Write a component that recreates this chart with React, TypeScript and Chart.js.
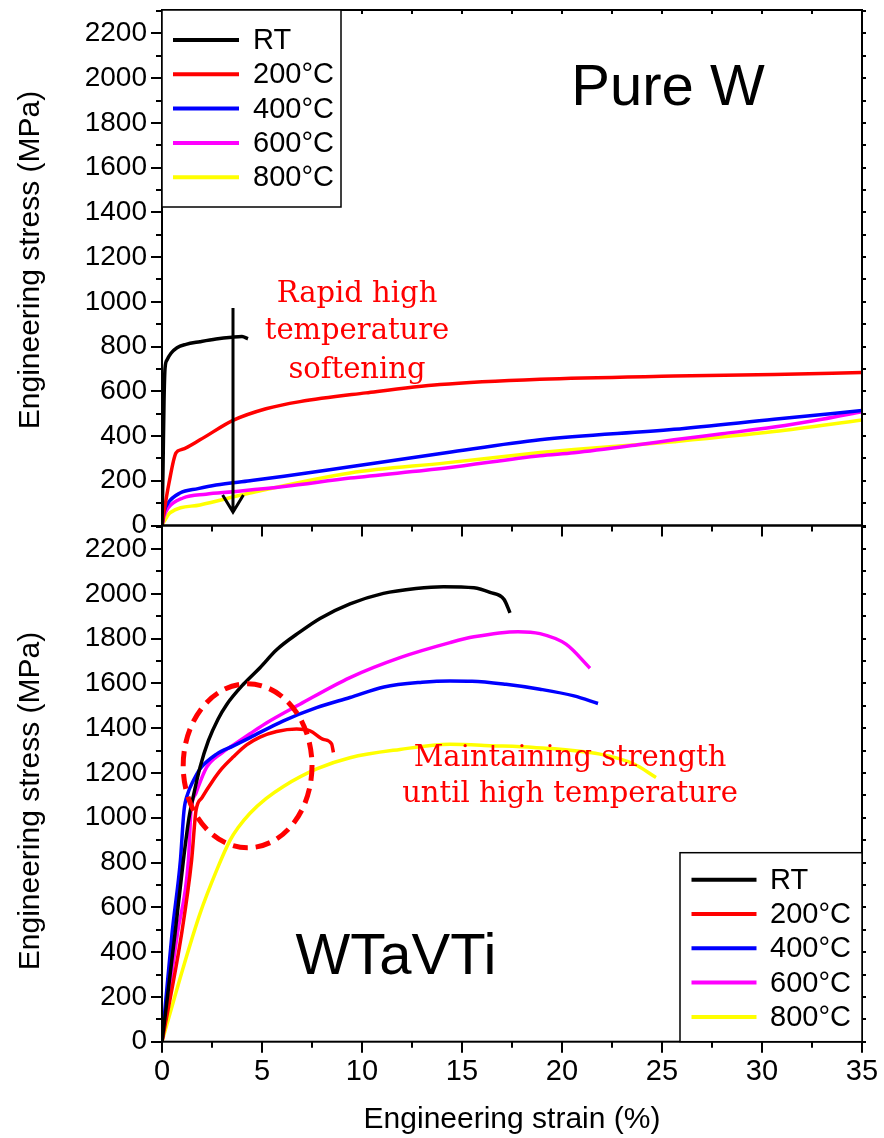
import React, { useEffect, useRef } from 'react';
import { Chart, registerables } from 'chart.js';

Chart.register(...registerables);

const PAGE_W = 884;
const PAGE_H = 1138;
const PLOT_LEFT = 162;
const PLOT_RIGHT = 862;
const SANS = '"Liberation Sans", Arial, sans-serif';
const SERIF = '"DejaVu Serif", serif';

const seriesLabels = ['RT', '200°C', '400°C', '600°C', '800°C'];
const seriesColors = ['#000000', '#ff0000', '#0000ff', '#ff00ff', '#ffff00'];

const strainTicks = [0, 5, 10, 15, 20, 25, 30, 35];
const stressTicks = [0, 200, 400, 600, 800, 1000, 1200, 1400, 1600, 1800, 2000, 2200];
const STRAIN_MAX = 35;
const STRESS_MAX = 2305;

type Pt = [number, number];

// Pure W: [engineering strain (%), engineering stress (MPa)]
const pureW_RT: Pt[] = [
  [0, 0], [0.05, 250], [0.1, 550], [0.15, 700], [0.25, 740], [0.45, 770], [0.75, 795],
  [1.2, 810], [1.9, 822], [2.7, 834], [3.5, 842], [4.0, 845], [4.3, 835],
];
const pureW_200: Pt[] = [
  [0, 0], [0.1, 60], [0.35, 190], [0.7, 325], [1.0, 340], [1.9, 383], [3.55, 470],
  [5.2, 522], [6.9, 554], [10.2, 593], [13.9, 630], [18.9, 654],
  [25.6, 668], [30.6, 675], [35, 684],
];
const pureW_400: Pt[] = [
  [0, 0], [0.1, 60], [0.3, 100], [0.9, 145], [1.8, 165], [2.7, 181], [4.4, 200],
  [6.1, 220], [9.4, 263], [14.2, 325], [18.9, 383], [25.6, 430], [30.6, 475], [35, 514],
];
const pureW_600: Pt[] = [
  [0, 0], [0.1, 40], [0.3, 78], [1.05, 123], [2.2, 140], [3.55, 151], [6.1, 174],
  [9.4, 212], [14.2, 257], [18.9, 312], [20.6, 325], [23.9, 362], [25.6, 383],
  [28, 410], [30.6, 440], [33, 475], [35, 509],
];
const pureW_800: Pt[] = [
  [0, 0], [0.1, 17], [0.4, 57], [1.9, 92], [4.4, 145], [9.4, 235], [14.2, 280],
  [18.9, 326], [20.6, 340], [23.9, 362], [25.6, 375], [30.6, 420], [35, 472],
];

// WTaVTi: [engineering strain (%), engineering stress (MPa)]
const wtavti_RT: Pt[] = [
  [0, 0], [0.65, 482], [1.07, 810], [1.35, 1000], [1.6, 1110], [1.9, 1225], [2.32, 1344],
  [2.8, 1440], [3.23, 1505], [4.07, 1596], [4.9, 1670], [5.73, 1750], [6.9, 1830],
  [7.9, 1890], [9.4, 1955], [11.07, 2002], [12.7, 2024], [14.07, 2032], [15.6, 2027],
  [16.4, 2006], [17.1, 1975], [17.4, 1915],
];
const wtavti_200: Pt[] = [
  [0, 0], [0.98, 482], [1.48, 810], [1.7, 1032], [2.0, 1090], [2.5, 1160], [3.0, 1220],
  [3.57, 1272], [4.23, 1325], [4.9, 1360], [5.73, 1385], [6.73, 1396], [7.4, 1388],
  [8.07, 1350], [8.48, 1330], [8.57, 1292],
];
const wtavti_400: Pt[] = [
  [0, 0], [0.5, 482], [0.92, 810], [1.1, 1032], [1.3, 1110], [1.57, 1166], [1.9, 1218],
  [2.73, 1284], [3.57, 1321], [4.4, 1358], [6.07, 1433], [7.73, 1492], [9.4, 1537],
  [11.1, 1584], [13, 1605], [14.4, 1611], [15.5, 1610], [17.2, 1596], [18.9, 1574],
  [20.6, 1544], [21.8, 1510],
];
const wtavti_600: Pt[] = [
  [0, 0], [0.77, 482], [1.32, 810], [1.45, 1032], [1.7, 1110], [2.23, 1225], [3.0, 1290],
  [3.57, 1325], [4.4, 1375], [5.2, 1422], [6.9, 1507], [9.4, 1626], [11.9, 1715],
  [14.4, 1782], [15.6, 1808], [17.8, 1831], [18.9, 1822], [20.2, 1775], [21.4, 1668],
];
const wtavti_800: Pt[] = [
  [0, 0], [1.07, 334], [1.9, 572], [2.73, 765], [3.4, 899], [3.8, 955], [4.4, 1020],
  [5.2, 1085], [6.07, 1140], [7.73, 1218], [9.4, 1268], [11.9, 1305], [14.4, 1328],
  [16.5, 1322], [18.6, 1314], [21.9, 1284], [23.6, 1240], [24.7, 1180],
];

interface PanelSpec {
  series: Pt[][];
  areaTop: number;
  areaBottom: number;
  showStrainLabels: boolean;
  topTicks: boolean;
  titleCenterY: number;
  legendCorner: 'top-left' | 'bottom-right';
  decorate: (chart: Chart) => void;
}

function px(chart: Chart, sx: number) {
  return chart.scales.x.getPixelForValue(sx);
}
function py(chart: Chart, sy: number) {
  return chart.scales.y.getPixelForValue(sy);
}

function drawLegend(chart: Chart, corner: 'top-left' | 'bottom-right') {
  const { ctx, chartArea: a } = chart;
  let left: number, top: number, w: number, h: number, firstRow: number, l0: number, l1: number, tx: number;
  if (corner === 'top-left') {
    w = 179; h = 197; left = a.left; top = a.top;
    firstRow = 30; l0 = 11; l1 = 77; tx = 91;
  } else {
    w = 182; h = 189; left = a.right - w; top = a.bottom - h;
    firstRow = 27; l0 = 11.5; l1 = 76.5; tx = 90;
  }
  const rowGap = 34.3;
  ctx.save();
  ctx.fillStyle = '#ffffff';
  ctx.fillRect(left, top, w, h);
  ctx.strokeStyle = '#000';
  ctx.lineWidth = 1.5;
  ctx.strokeRect(left, top, w, h);
  ctx.font = `29px ${SANS}`;
  ctx.textAlign = 'left';
  ctx.textBaseline = 'middle';
  chart.data.datasets.forEach((ds: any, i: number) => {
    const ry = top + firstRow + i * rowGap;
    ctx.strokeStyle = ds.borderColor;
    ctx.lineWidth = 4;
    ctx.beginPath();
    ctx.moveTo(left + l0, ry);
    ctx.lineTo(left + l1, ry);
    ctx.stroke();
    ctx.fillStyle = '#000';
    ctx.fillText(ds.label, left + tx, ry + 1);
  });
  ctx.restore();
}

function framePlugin(spec: PanelSpec) {
  return {
    id: 'frame',
    afterDatasetsDraw(chart: Chart) {
      const { ctx, chartArea: a } = chart;
      ctx.save();
      ctx.strokeStyle = '#000';
      ctx.lineWidth = 2;
      ctx.strokeRect(a.left, a.top, a.right - a.left, a.bottom - a.top);
      ctx.beginPath();
      for (let v = 0; v <= STRESS_MAX; v += 100) {
        const y = Math.round(py(chart, v));
        const len = v % 200 === 0 ? 11 : 6;
        ctx.moveTo(a.left - len, y);
        ctx.lineTo(a.left, y);
        ctx.moveTo(a.right, y);
        ctx.lineTo(a.right + 4, y);
      }
      for (let s = 0; s <= STRAIN_MAX; s += 2.5) {
        const x = Math.round(px(chart, s));
        const len = s % 5 === 0 ? 11 : 6;
        ctx.moveTo(x, a.bottom);
        ctx.lineTo(x, a.bottom + len);
        if (spec.topTicks) {
          ctx.moveTo(x, a.top);
          ctx.lineTo(x, a.top + 4);
        }
      }
      ctx.stroke();

      // stress axis title
      ctx.save();
      ctx.translate(31, spec.titleCenterY);
      ctx.rotate(-Math.PI / 2);
      ctx.font = `30px ${SANS}`;
      ctx.fillStyle = '#000';
      ctx.textAlign = 'center';
      ctx.textBaseline = 'middle';
      ctx.fillText('Engineering stress (MPa)', 0, 0);
      ctx.restore();

      if (spec.showStrainLabels) {
        ctx.font = `30px ${SANS}`;
        ctx.fillStyle = '#000';
        ctx.textAlign = 'center';
        ctx.textBaseline = 'alphabetic';
        ctx.fillText('Engineering strain (%)', (a.left + a.right) / 2, 1128);
      }
      ctx.restore();

      spec.decorate(chart);
      drawLegend(chart, spec.legendCorner);
    },
  };
}

function decoratePureW(chart: Chart) {
  const { ctx } = chart;
  ctx.save();
  ctx.fillStyle = '#000';
  ctx.font = `58px ${SANS}`;
  ctx.textAlign = 'center';
  ctx.textBaseline = 'alphabetic';
  ctx.fillText('Pure W', px(chart, 25.3), py(chart, 1881));

  ctx.fillStyle = '#ff0000';
  ctx.font = `29px ${SERIF}`;
  const cx = px(chart, 9.75);
  ctx.fillText('Rapid high', cx, py(chart, 1001));
  ctx.fillText('temperature', cx, py(chart, 833));
  ctx.fillText('softening', cx, py(chart, 659));

  // downward arrow across the softening curves
  const ax = px(chart, 3.55);
  const tip = py(chart, 60);
  const wing = py(chart, 136);
  const dx = px(chart, 3.55 + 0.52) - ax;
  ctx.strokeStyle = '#000';
  ctx.lineWidth = 3;
  ctx.lineCap = 'butt';
  ctx.beginPath();
  ctx.moveTo(ax, py(chart, 973));
  ctx.lineTo(ax, tip);
  ctx.moveTo(ax - dx, wing);
  ctx.lineTo(ax, tip);
  ctx.lineTo(ax + dx, wing);
  ctx.stroke();
  ctx.restore();
}

function decorateAlloy(chart: Chart) {
  const { ctx } = chart;
  ctx.save();
  // dashed ring around the early work-hardening region
  const cx = px(chart, 4.28);
  const cy = py(chart, 1232);
  const rx = px(chart, 4.28 + 3.22) - cx;
  const ry = cy - py(chart, 1232 + 366);
  ctx.strokeStyle = '#ff0000';
  ctx.lineWidth = 5;
  ctx.setLineDash([15, 8]);
  ctx.beginPath();
  ctx.ellipse(cx, cy, rx, ry, 0, 0, Math.PI * 2);
  ctx.stroke();
  ctx.setLineDash([]);

  ctx.fillStyle = '#000';
  ctx.font = `58px ${SANS}`;
  ctx.textAlign = 'center';
  ctx.textBaseline = 'alphabetic';
  ctx.fillText('WTaVTi', px(chart, 11.7), py(chart, 301));

  ctx.fillStyle = '#ff0000';
  ctx.font = `29px ${SERIF}`;
  const tx = px(chart, 20.4);
  ctx.fillText('Maintaining strength', tx, py(chart, 1232));
  ctx.fillText('until high temperature', tx, py(chart, 1069));
  ctx.restore();
}

const pureSpec: PanelSpec = {
  series: [pureW_RT, pureW_200, pureW_400, pureW_600, pureW_800],
  areaTop: 10,
  areaBottom: 525.5,
  showStrainLabels: false,
  topTicks: true,
  titleCenterY: 260,
  legendCorner: 'top-left',
  decorate: decoratePureW,
};

const alloySpec: PanelSpec = {
  series: [wtavti_RT, wtavti_200, wtavti_400, wtavti_600, wtavti_800],
  areaTop: 525.5,
  areaBottom: 1041.7,
  showStrainLabels: true,
  topTicks: false,
  titleCenterY: 801,
  legendCorner: 'bottom-right',
  decorate: decorateAlloy,
};

function buildConfig(spec: PanelSpec): any {
  return {
    type: 'line',
    data: {
      datasets: spec.series.map((pts, i) => ({
        label: seriesLabels[i],
        data: pts.map(([x, y]) => ({ x, y })),
        borderColor: seriesColors[i],
        backgroundColor: seriesColors[i],
        borderWidth: 3.5,
        pointRadius: 0,
        fill: false,
        cubicInterpolationMode: 'monotone',
      })),
    },
    options: {
      animation: false,
      responsive: false,
      devicePixelRatio: 1,
      events: [],
      layout: { padding: { left: 0, right: PAGE_W - PLOT_RIGHT, top: spec.areaTop, bottom: 0 } },
      plugins: { legend: { display: false }, tooltip: { enabled: false } },
      scales: {
        x: {
          type: 'linear',
          min: 0,
          max: STRAIN_MAX,
          afterBuildTicks: (s: any) => {
            s.ticks = strainTicks.map((v) => ({ value: v }));
          },
          afterFit: (s: any) => {
            s.height = PAGE_H - spec.areaBottom;
            s.paddingLeft = 0;
            s.paddingRight = 0;
          },
          grid: { display: false, drawTicks: false },
          border: { display: false },
          ticks: {
            display: spec.showStrainLabels,
            color: '#000',
            font: { family: SANS, size: 29 },
            padding: 13,
            maxRotation: 0,
            autoSkip: false,
            callback: (v: number) => String(v),
          },
        },
        y: {
          type: 'linear',
          min: 0,
          max: STRESS_MAX,
          afterBuildTicks: (s: any) => {
            s.ticks = stressTicks.map((v) => ({ value: v }));
          },
          afterFit: (s: any) => {
            s.width = PLOT_LEFT;
            s.paddingTop = 0;
            s.paddingBottom = 0;
          },
          grid: { display: false, drawTicks: false },
          border: { display: false },
          ticks: {
            color: '#000',
            font: { family: SANS, size: 28 },
            padding: 15,
            autoSkip: false,
            callback: (v: number) => String(v),
          },
        },
      },
    },
    plugins: [framePlugin(spec)],
  };
}

export default function App() {
  const topRef = useRef<HTMLCanvasElement>(null);
  const bottomRef = useRef<HTMLCanvasElement>(null);

  useEffect(() => {
    const top = new Chart(topRef.current as HTMLCanvasElement, buildConfig(pureSpec));
    const bottom = new Chart(bottomRef.current as HTMLCanvasElement, buildConfig(alloySpec));
    return () => {
      top.destroy();
      bottom.destroy();
    };
  }, []);

  const canvasStyle: React.CSSProperties = { position: 'absolute', left: 0, top: 0 };
  return (
    <div style={{ position: 'fixed', left: 0, top: 0, width: PAGE_W, height: PAGE_H, background: '#fff' }}>
      <canvas ref={topRef} width={PAGE_W} height={PAGE_H} style={canvasStyle} />
      <canvas ref={bottomRef} width={PAGE_W} height={PAGE_H} style={canvasStyle} />
    </div>
  );
}
